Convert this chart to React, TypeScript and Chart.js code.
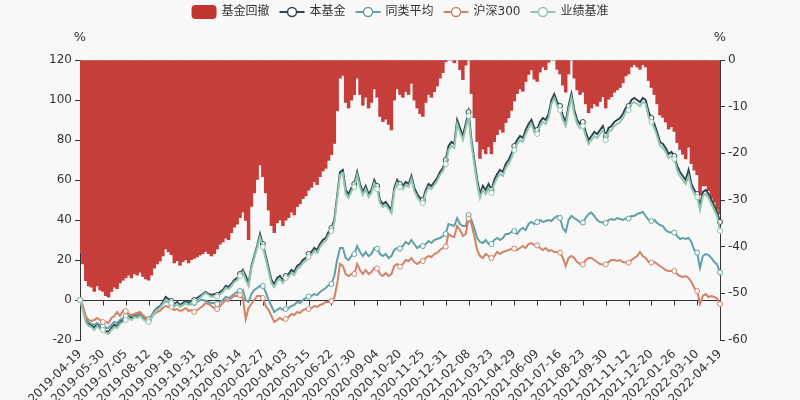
import React, { useEffect, useRef } from "react";
import { Chart, registerables } from "chart.js";

Chart.register(...registerables);

// ---- data ----
const tickLabels = [
  "2019-04-19", "2019-05-30", "2019-07-05", "2019-08-12", "2019-09-18", "2019-10-31",
  "2019-12-06", "2020-01-14", "2020-02-27", "2020-04-03", "2020-05-15", "2020-06-22",
  "2020-07-30", "2020-09-04", "2020-10-20", "2020-11-25", "2020-12-31", "2021-02-08",
  "2021-03-23", "2021-04-29", "2021-06-09", "2021-07-16", "2021-08-23", "2021-09-30",
  "2021-11-12", "2021-12-20", "2022-01-26", "2022-03-10", "2022-04-19",
];
const POINTS_PER_TICK = 8;

const seriesNames = ["基金回撤", "本基金", "同类平均", "沪深300", "业绩基准"];
const seriesColors = ["#c23531", "#2f4554", "#61a0a8", "#d48265", "#91c7ae"];

const fundReturn = [
  0, -4, -10, -12, -12.5, -14, -12, -13.5,
  -14, -15.5, -16, -14, -12.5, -13, -11, -10,
  -9, -8, -9, -7.5, -8, -7, -8.5, -9.5,
  -10, -8, -5.5, -4, -3, -1, 1.5, 0.5,
  -0.5, -2, -1, -2.5, -1.5, -0.5, -1.5, -0.5,
  0, 1, 2, 3, 4, 3, 2.5, 3,
  2.5, 4, 5, 7, 6.5, 8, 10, 11,
  13, 15, 12, 8, 17, 22, 27, 33,
  28, 22, 16, 10, 8, 11, 12, 10,
  12, 13, 15, 14, 17, 18, 20, 21,
  23, 24, 26, 25, 28, 30, 31, 34,
  36, 40, 52, 64, 65, 55, 53, 56,
  58, 64, 58, 54, 57, 53, 55, 60,
  57, 50, 48, 49, 47, 45, 56, 60,
  58, 57, 59, 58, 62, 56, 53, 51,
  50, 55, 58, 57, 59, 61, 64, 66,
  70, 77, 79, 78, 90, 86, 82, 88,
  94, 80, 70, 60, 53, 57, 55, 58,
  55, 60, 63, 65, 64, 68, 70, 73,
  77, 80, 82, 81, 85, 88, 90, 86,
  85, 89, 91, 90, 93, 100, 103, 99,
  97, 92, 89, 97, 103, 95, 90, 88,
  89, 84, 80, 82, 84, 83, 85, 87,
  82, 86, 87, 89, 90, 91, 93, 96,
  97, 100, 101, 100, 99, 101, 100, 94,
  91, 88, 84, 79, 78, 76, 73, 74,
  72, 67, 64, 62, 60, 65, 58, 55,
  53, 47, 54, 55, 53, 50, 47, 44,
  39,
];

const benchmark = [
  0, -5, -11, -13, -13.5, -15, -13, -14.5,
  -15, -16.5, -17, -15, -13.5, -14, -12, -11,
  -10, -9, -10, -8.5, -9, -8, -9.5, -10.5,
  -11, -9, -6.5, -5, -4, -2, 0, -0.5,
  -1.5, -3, -2, -3.5, -2.5, -1.5, -2.5, -1.5,
  -1, 0, 1, 2.5, 3.5, 2.5, 1.5, 2,
  1.7, 3, 4, 6, 5.5, 7, 9, 10,
  12, 14, 10, 7, 16, 21, 26, 31.5,
  26.5, 20.5, 14.5, 8.5, 6.5, 9.5, 10.5, 8.5,
  11, 11.5, 13.5, 12.5, 15.5, 16.5, 18.5, 19.5,
  21.5, 22.5, 24.5, 23.5, 26.5, 28.5, 29.5, 32.5,
  34.5, 38.5, 50.5, 62.5, 63.5, 53, 51, 54.5,
  56.5, 62.5, 56.5, 52.5, 55.5, 51.5, 53.5, 58.5,
  55.5, 48.5, 46.5, 47.5, 45.5, 43.5, 54.5, 58.5,
  56.5, 55.5, 57.5, 56.5, 60.5, 54.5, 51.5, 49.5,
  48.5, 53.5, 56.5, 55.5, 57.5, 59.5, 62.5, 64.5,
  68, 75, 77, 76, 88, 84, 80, 86,
  92, 78, 68, 58, 51, 55, 53, 56,
  53.5, 58, 61, 63, 62, 66, 68, 71,
  75, 78, 80, 79, 83, 86, 88, 84,
  83, 87, 89, 88, 91, 98, 101, 97,
  95, 90, 87, 95, 101, 93, 88, 86,
  87, 82, 78, 80, 82, 81, 83, 85,
  80, 84, 85, 87, 88, 89, 91, 94,
  95, 98, 99, 98, 97, 99, 98, 91.5,
  89, 86, 82, 77, 76, 74, 71, 72,
  70.5, 65, 62, 60, 58, 62, 56, 53,
  51.5, 45, 52, 53, 51, 48, 45, 42,
  34.5,
];

const peerAverage = [
  0, -3, -9, -11, -12, -12.5, -11.5, -12.5,
  -13, -14, -14, -12.5, -11, -11.5, -10, -9,
  -8, -7.5, -8, -7, -7.5, -6.5, -8, -9,
  -9.5, -8, -6, -4.5, -3.5, -2, -0.5, -1,
  -2, -3, -2, -3, -2.5, -1.5, -2.5, -2,
  -1.5, -1, 0, 0, -0.5, -1, -1.5, -1.5,
  -2, -1, 0, 1.5, 1, 2, 3, 4,
  4.5, 5, 0, -1, 3, 5, 6, 7,
  7, 4, 0, -3, -6, -5, -4, -5,
  -4.5, -4, -3, -2.5, -1, -1.5, 0, 1,
  1.7, 2, 3, 2.5, 4, 5, 6, 7.5,
  8, 12, 20, 26, 26, 21, 20, 22,
  23, 27, 24, 22, 24, 22, 23, 26,
  25.7, 23, 22, 23, 21, 22, 25, 26,
  25.7, 27, 29, 28, 30, 28, 26, 27,
  27, 28, 29.5, 28.5, 30, 30.5, 31, 32,
  33, 38, 37.5, 37, 41, 38, 37, 37,
  42.5, 40, 36, 31, 29, 28.5, 30, 28,
  28, 30, 31, 30, 31, 33, 33, 34,
  34.5, 33, 35, 36, 35, 38, 39, 38,
  39, 40, 39, 39.5, 40, 39.5, 41, 42,
  41, 36, 34, 40, 42, 41, 40, 39,
  38.7, 41, 43, 43.7, 42, 40, 39, 38.7,
  38.5, 40, 40.5, 40, 41, 40.5, 40, 40.7,
  40.7, 42, 42, 43, 43.5, 44, 42, 40,
  39.5, 40, 38.5, 37.5, 37, 35, 34, 33.7,
  33.7, 32, 30.5, 31, 30.5, 31, 29, 25,
  23.7, 16, 22, 23, 22.5, 21, 19, 17.8,
  13.7,
];

const csi300 = [
  0, -3, -8, -10, -10.5, -10, -9, -10,
  -11, -11, -11.5, -9, -8, -6, -8, -5.5,
  -5.5, -7, -7.5, -7, -6.5, -6, -7.5, -9,
  -10, -9, -7, -6, -5.5, -4, -3, -3.5,
  -3.5, -5, -4.5, -5.5, -5, -4, -5.5, -5,
  -6, -5, -4, -3, -1.5, -2, -3, -4,
  -4.5, -3, -1.5, 0, -0.5, 1, 2, 2,
  2.5, 1, -9.5, -4, -2, 0, 2, 2,
  1, -3, -5, -8, -11, -10, -9, -10,
  -9.5, -8.5, -7, -7.5, -6, -6.5, -5, -4.5,
  -4.5, -4, -3, -3.5, -2.5, -2, -1, -1,
  -0.5, 1, 8, 18, 17, 13, 12, 13,
  13, 18, 15, 13, 15, 13, 14, 16,
  15.8, 13, 12, 13.5, 12, 13, 17, 18,
  16.7, 18, 20, 19.5, 21, 19, 18, 19,
  19.5, 21, 22, 21.5, 23, 23.5, 25, 26,
  26.7, 33, 32, 31.5, 37, 35, 32, 33,
  40.7, 38, 32, 25, 22, 21, 23, 22,
  21, 22, 24, 23, 24, 24.5, 25, 25.5,
  25.7, 25, 26, 27, 26, 28, 28.5, 27.5,
  27.3, 26, 25, 26, 24.5, 25, 24, 24,
  23.7, 21, 17, 21, 22, 21, 19, 18,
  17.8, 20, 21, 21, 20, 19, 18, 17.8,
  17.8, 19, 20, 20, 19.5, 20, 19, 18.7,
  18.7, 20, 21, 22, 24, 22, 21, 19,
  18.7, 19, 18, 17, 16, 15, 14.5, 14.5,
  14.5, 13, 12, 11.5, 12, 11, 9, 6,
  4.5, -2, 2, 3, 1.5, 2, 1.5, 0.7,
  -2,
];

const drawdown = [
  -41.4, -43.7, -47.3, -48.4, -48.7, -49.6, -48.4, -49.3,
  -49.6, -50.5, -50.8, -49.6, -48.7, -49.0, -47.8, -47.2,
  -46.7, -46.1, -46.7, -45.8, -46.1, -45.5, -46.4, -46.9,
  -47.2, -46.1, -44.6, -43.7, -43.1, -42.0, -40.5, -41.1,
  -41.7, -43.5, -43, -44, -43.2, -42.8, -43.5, -42.8,
  -42.5, -42.2, -41.8, -41.5, -41, -41.5, -42, -41.5,
  -40.5, -39.5, -39, -38.2, -38.5, -37, -35.8, -35.2,
  -33.8, -32.6, -34.4, -38.5, -31.4, -28.5, -25.6, -22.5,
  -25, -28.5, -32.2, -35.5, -37, -34.9, -34.3, -35.5,
  -34.3, -33.8, -32.6, -33.2, -31.4, -30.8, -29.7, -29.1,
  -27.9, -27.3, -26.1, -26.7, -25, -23.8, -23.2, -21.5,
  -20.3, -17.9, -10.9, -3.9, -3.3, -9.1, -10.3, -8.6,
  -7.4, -3.9, -7.4, -9.7, -8, -10.3, -9.1, -6.2,
  -8, -12.1, -13.2, -12.7, -13.8, -15, -8.6, -6.2,
  -7.4, -8, -6.8, -7.4, -5, -8.6, -10.3, -11.5,
  -12.1, -9.1, -7.4, -8, -6.8, -5.6, -3.9, -2.7,
  -0.4, 0, 0, -0.6, 0, -2.1, -4.2, -1.1,
  0, -7.2, -12.4, -17.5, -21.1, -19.1, -20.1, -18.6,
  -20.1, -17.5, -16, -14.9, -15.5, -13.4, -12.4, -10.8,
  -8.8, -7.2, -6.2, -6.7, -4.6, -3.1, -2.1, -4.1,
  -4.6, -2.6, -1.5, -2.1, -0.5, 0, 0, -2,
  -3, -5.4, -6.9, -3, 0, -3.9, -6.4, -7.4,
  -6.9, -9.4, -11.3, -10.3, -9.4, -9.9, -8.9, -7.9,
  -10.3, -8.4, -7.9, -6.9, -6.4, -5.9, -4.9, -3.4,
  -3, -1.5, -1, -1.5, -2, -1, -1.5, -4.4,
  -5.9, -7.4, -9.4, -11.8, -12.3, -13.3, -14.8, -14.3,
  -15.3, -17.7, -19.2, -20.2, -21.2, -18.7, -22.2, -23.6,
  -24.6, -29, -27, -27, -28, -29.5, -30.5, -32,
  -33,
];

// ---- style ----
const FONT = '"DejaVu Sans", "Noto Sans CJK SC", sans-serif';
const TEXT = "#333";
const AXIS = "#333";
const BG = "#f8f8f8";
const BAR_FILL = "#c63e3a";

const backgroundPlugin = {
  id: "bg",
  beforeDraw(chart: any) {
    const ctx = chart.ctx;
    ctx.save();
    ctx.fillStyle = BG;
    ctx.fillRect(0, 0, chart.width, chart.height);
    ctx.restore();
  },
};

const zeroAxisPlugin = {
  id: "zeroAxis",
  beforeDatasetsDraw(chart: any) {
    const { ctx, chartArea, scales } = chart;
    const y0 = Math.round(scales.y.getPixelForValue(0)) + 0.5;
    ctx.save();
    ctx.strokeStyle = AXIS;
    ctx.lineWidth = 1;
    ctx.beginPath();
    ctx.moveTo(chartArea.left, y0);
    ctx.lineTo(chartArea.right, y0);
    for (let k = 1; k < tickLabels.length; k++) {
      const x = Math.round(scales.x.getPixelForValue(k * POINTS_PER_TICK)) + 0.5;
      ctx.moveTo(x, y0);
      ctx.lineTo(x, y0 + 5);
    }
    ctx.stroke();
    ctx.restore();
  },
};

const axisNamePlugin = {
  id: "axisNames",
  afterDraw(chart: any) {
    const { ctx, chartArea } = chart;
    ctx.save();
    ctx.fillStyle = TEXT;
    ctx.font = `13px ${FONT}`;
    ctx.textAlign = "center";
    ctx.textBaseline = "middle";
    ctx.fillText("%", chartArea.left, chartArea.top - 22);
    ctx.fillText("%", chartArea.right, chartArea.top - 22);
    ctx.restore();
  },
};

const legendPlugin = {
  id: "customLegend",
  afterDraw(chart: any) {
    const ctx = chart.ctx;
    ctx.save();
    ctx.font = `12px ${FONT}`;
    const iconW = 25;
    const gap = 5;
    const itemGap = 10;
    const widths = seriesNames.map((n) => iconW + gap + ctx.measureText(n).width);
    const total = widths.reduce((a, b) => a + b, 0) + itemGap * (widths.length - 1);
    let x = chart.width / 2 - total / 2;
    const cy = 12;
    seriesNames.forEach((name, idx) => {
      const color = seriesColors[idx];
      if (idx === 0) {
        ctx.fillStyle = color;
        ctx.beginPath();
        ctx.roundRect(x, cy - 7, iconW, 14, 4);
        ctx.fill();
      } else {
        ctx.strokeStyle = color;
        ctx.lineWidth = 2;
        ctx.beginPath();
        ctx.moveTo(x, cy);
        ctx.lineTo(x + iconW, cy);
        ctx.stroke();
        ctx.beginPath();
        ctx.arc(x + iconW / 2, cy, 4.5, 0, Math.PI * 2);
        ctx.fillStyle = "#fff";
        ctx.fill();
        ctx.lineWidth = 1.5;
        ctx.stroke();
      }
      ctx.fillStyle = TEXT;
      ctx.textBaseline = "middle";
      ctx.textAlign = "left";
      ctx.fillText(name, x + iconW + gap, cy);
      x += widths[idx] + itemGap;
    });
    ctx.restore();
  },
};

function lineDataset(label: string, data: number[], color: string, order: number) {
  return {
    type: "line" as const,
    label,
    data,
    yAxisID: "y",
    borderColor: color,
    backgroundColor: color,
    borderWidth: 2,
    tension: 0,
    fill: false,
    pointRadius: (c: any) => (c.dataIndex % POINTS_PER_TICK === 0 ? 2.5 : 0),
    pointBackgroundColor: "#fff",
    pointBorderColor: color,
    pointBorderWidth: 1,
    order,
  };
}

export default function App() {
  const canvasRef = useRef<HTMLCanvasElement | null>(null);

  useEffect(() => {
    const canvas = canvasRef.current;
    if (!canvas) return;
    const labels = fundReturn.map((_, i) =>
      i % POINTS_PER_TICK === 0 ? tickLabels[i / POINTS_PER_TICK] : ""
    );
    const tickFont = { family: FONT, size: 12 };
    const chart = new Chart(canvas, {
      data: {
        labels,
        datasets: [
          {
            type: "bar",
            label: seriesNames[0],
            data: drawdown,
            yAxisID: "y1",
            backgroundColor: BAR_FILL,
            borderWidth: 0,
            barPercentage: 1,
            categoryPercentage: 1,
            order: 5,
          },
          lineDataset(seriesNames[1], fundReturn, seriesColors[1], 4),
          lineDataset(seriesNames[2], peerAverage, seriesColors[2], 3),
          lineDataset(seriesNames[3], csi300, seriesColors[3], 2),
          lineDataset(seriesNames[4], benchmark, seriesColors[4], 1),
        ] as any,
      },
      options: {
        animation: false,
        responsive: false,
        devicePixelRatio: 1,
        layout: { padding: { top: 60, left: 0, right: 0, bottom: 0 } },
        plugins: {
          legend: { display: false },
          tooltip: { enabled: false },
          title: { display: false },
        },
        scales: {
          x: {
            type: "category",
            offset: false,
            grid: { display: false, drawTicks: false },
            border: { display: false },
            ticks: {
              autoSkip: false,
              minRotation: 45,
              maxRotation: 45,
              color: TEXT,
              font: tickFont,
              padding: 7,
            },
            afterFit: (s: any) => {
              s.height = 60;
            },
          },
          y: {
            type: "linear",
            position: "left",
            min: -20,
            max: 120,
            ticks: { stepSize: 20, color: TEXT, font: tickFont, padding: 3 },
            grid: { drawOnChartArea: false, color: AXIS, tickLength: 5 },
            border: { display: true, color: AXIS },
            afterFit: (s: any) => {
              s.width = 80;
            },
          },
          y1: {
            type: "linear",
            position: "right",
            min: -60,
            max: 0,
            ticks: { stepSize: 10, color: TEXT, font: tickFont, padding: 3 },
            grid: { drawOnChartArea: false, color: AXIS, tickLength: 5 },
            border: { display: true, color: AXIS },
            afterFit: (s: any) => {
              s.width = 80;
            },
          },
        },
      } as any,
      plugins: [backgroundPlugin, zeroAxisPlugin, axisNamePlugin, legendPlugin],
    });
    return () => chart.destroy();
  }, []);

  return (
    <div style={{ position: "fixed", left: 0, top: 0, width: 800, height: 400 }}>
      <canvas ref={canvasRef} width={800} height={400} style={{ display: "block" }} />
    </div>
  );
}
